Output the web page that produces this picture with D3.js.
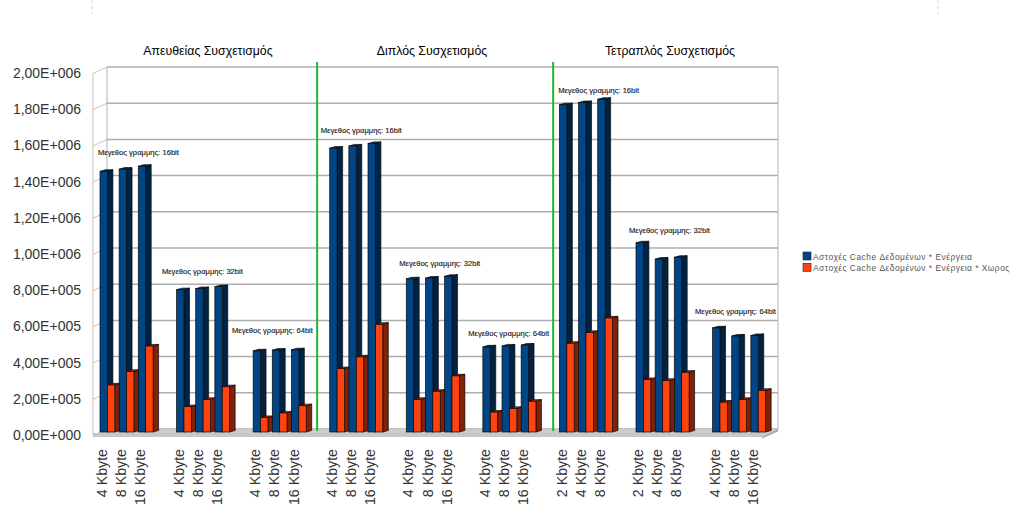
<!DOCTYPE html>
<html><head><meta charset="utf-8">
<script src="https://cdn.jsdelivr.net/npm/d3@7"></script>
<style>html,body{margin:0;padding:0;background:#fff}svg{display:block}text{font-family:"Liberation Sans",Arial,sans-serif}</style>
</head><body><svg id="c" width="1024" height="522"></svg>
<script>
const slots = ["4 Kbyte","8 Kbyte","16 Kbyte","",
 "4 Kbyte","8 Kbyte","16 Kbyte","",
 "4 Kbyte","8 Kbyte","16 Kbyte","",
 "4 Kbyte","8 Kbyte","16 Kbyte","",
 "4 Kbyte","8 Kbyte","16 Kbyte","",
 "4 Kbyte","8 Kbyte","16 Kbyte","",
 "2 Kbyte","4 Kbyte","8 Kbyte","",
 "2 Kbyte","4 Kbyte","8 Kbyte","",
 "4 Kbyte","8 Kbyte","16 Kbyte"];
const energy = [1440000,1452000,1468000,null,786000,792000,803000,null,448000,452000,454000,null,
 1568000,1580000,1594000,null,846000,850000,860000,null,470000,475000,480000,null,
 1808000,1820000,1838000,null,1045000,955000,965000,null,575000,530000,533000];
const energyArea = [260000,335000,475000,null,140000,180000,250000,null,80000,105000,145000,null,
 350000,415000,595000,null,180000,225000,310000,null,110000,130000,170000,null,
 490000,550000,630000,null,290000,285000,330000,null,165000,180000,230000];
const yTicks = [0,200000,400000,600000,800000,1000000,1200000,1400000,1600000,1800000,2000000];
const yTickLabels = ["0,00E+000","2,00E+005","4,00E+005","6,00E+005","8,00E+005","1,00E+006","1,20E+006","1,40E+006","1,60E+006","1,80E+006","2,00E+006"];
const sectionTitles = ["Απευθείας Συσχετισμός","Διπλός Συσχετισμός","Τετραπλός Συσχετισμός"];
const sectionTitleX = [208,432,670];
const dividerSlots = [11.5,23.83];
const lineLabels = ["Μεγεθος γραμμης: 16bit","Μεγεθος γραμμης: 32bit","Μεγεθος γραμμης: 64bit"];
const noteAnchors = [
 {slot:.26,text:lineLabels[0],value:1547000},{slot:3.6,text:lineLabels[1],value:895000},{slot:7.26,text:lineLabels[2],value:564000},
 {slot:11.9,text:lineLabels[0],value:1669000},{slot:16,text:lineLabels[1],value:934000},{slot:19.6,text:lineLabels[2],value:552000},
 {slot:24.3,text:lineLabels[0],value:1892000},{slot:28,text:lineLabels[1],value:1120000},{slot:31.45,text:lineLabels[2],value:673000}];
const legendLabels = ["Αστοχές Cache Δεδομένων * Ενέργεια","Αστοχές Cache Δεδομένων * Ενέργεια * Χωρος"];
const colors = {blue:"#004586",blueSide:"#002344",blueTop:"#003366",orange:"#ff420e",orangeSide:"#80210a",orangeTop:"#c0320b"};

const svg = d3.select("#c");
const dx = 14, dy = -6.5;
const x = d3.scaleBand().domain(d3.range(slots.length)).range([93,763]);
const y = d3.scaleLinear().domain([0,2000000]).range([435.5,73.5]);
const baseLift = -3.5, barDepthX = 5.5, barDepthY = -1.6;
const barW = 7.4;

const g = svg.append("g");
const wallX0 = x.range()[0], wallX1 = x.range()[1];
const poly = (pts,fill,stroke) => g.append("polygon").attr("points",pts.map(p=>p.join(",")).join(" ")).attr("fill",fill).attr("stroke",stroke||"none");
g.selectAll("line.edge").data([92,938]).join("line").attr("class","edge")
 .attr("x1",d=>d).attr("x2",d=>d).attr("y1",0).attr("y2",14).attr("stroke","#dcdcdc").attr("stroke-dasharray","4 2");
g.selectAll("line.grid").data(yTicks).join("line").attr("class","grid")
 .attr("x1",wallX0+dx).attr("x2",wallX1+dx+1).attr("y1",d=>y(d)+dy).attr("y2",d=>y(d)+dy)
 .attr("stroke","#aeaeae").attr("stroke-width",1.5);
g.selectAll("line.tick").data(yTicks).join("line").attr("class","tick")
 .attr("x1",wallX0).attr("x2",wallX0+dx).attr("y1",d=>y(d)).attr("y2",d=>y(d)+dy)
 .attr("stroke","#c4c4c4").attr("stroke-width",1);
g.append("line").attr("x1",wallX0).attr("x2",wallX0).attr("y1",y(2000000)).attr("y2",y(0)).attr("stroke","#c4c4c4");
g.append("line").attr("x1",wallX0+dx).attr("x2",wallX0+dx).attr("y1",y(2000000)+dy).attr("y2",y(0)+dy).attr("stroke","#b3b3b3");
g.append("line").attr("x1",wallX1+dx+1).attr("x2",wallX1+dx+1).attr("y1",y(2000000)+dy).attr("y2",y(0)+dy).attr("stroke","#b3b3b3");
poly([[wallX0,y(0)+1.5],[wallX0+dx,y(0)+dy],[wallX1+dx+1,y(0)+dy],[wallX1,y(0)+1.5]],"#cccccc");
g.append("rect").attr("x",wallX0).attr("y",y(0)-2.5).attr("width",wallX1-wallX0).attr("height",4).attr("fill","#c8c8c8");
poly([[wallX1-1,y(0)+1.5],[wallX1+dx+1,y(0)+dy],[wallX1+dx+1,y(0)+dy+2.5],[wallX1-1,y(0)+3]],"#a8a8a8");

g.selectAll("line.div").data(dividerSlots).join("line").attr("class","div")
 .attr("x1",d=>wallX0+x.step()*d+4).attr("x2",d=>wallX0+x.step()*d+4).attr("y1",62).attr("y2",431)
 .attr("stroke","#1fb52e").attr("stroke-width",2);

function bar(sel,vals,off,c,sc,tc){
 const data = vals.map((v,i)=>({v,i})).filter(d=>d.v!=null);
 const gs = sel.selectAll(null).data(data).join("g");
 const X = d=>x(d.i)+off, Y = d=>y(d.v)+baseLift, B = y(0)+baseLift;
 gs.append("polygon").attr("points",d=>`${X(d)+barW},${Y(d)} ${X(d)+barW+barDepthX},${Y(d)+barDepthY} ${X(d)+barW+barDepthX},${B+barDepthY} ${X(d)+barW},${B}`).attr("fill",sc).attr("stroke","#0a0a0a").attr("stroke-width",.7);
 gs.append("polygon").attr("points",d=>`${X(d)},${Y(d)} ${X(d)+barDepthX},${Y(d)+barDepthY} ${X(d)+barW+barDepthX},${Y(d)+barDepthY} ${X(d)+barW},${Y(d)}`).attr("fill",tc).attr("stroke","#0a0a0a").attr("stroke-width",.7);
 gs.append("rect").attr("x",X).attr("y",Y).attr("width",barW).attr("height",d=>B-Y(d)).attr("fill",c).attr("stroke","#0a0a0a").attr("stroke-width",.7);
}
const bars = svg.append("g");
d3.range(slots.length).forEach(i=>{
 const row = bars.append("g");
 const e = energy.map((v,j)=>j===i?v:null), a = energyArea.map((v,j)=>j===i?v:null);
 bar(row,e,7,colors.blue,colors.blueSide,colors.blueTop);
 bar(row,a,14.4,colors.orange,colors.orangeSide,colors.orangeTop);
});

svg.append("g").selectAll("text").data(yTicks).join("text")
 .attr("x",81).attr("y",d=>y(d)-0.5).attr("dy","0.36em").attr("text-anchor","end")
 .attr("font-size",14).attr("fill","#333").text((d,i)=>yTickLabels[i]);

svg.append("g").selectAll("text").data(slots.map((s,i)=>({s,i})).filter(d=>d.s)).join("text")
 .attr("transform",d=>`translate(${x(d.i)+x.bandwidth()/2+4.5},449) rotate(-90)`)
 .attr("text-anchor","end").attr("font-size",14.2).attr("fill","#333").text(d=>d.s);

svg.append("g").selectAll("text").data(sectionTitles).join("text")
 .attr("x",(d,i)=>sectionTitleX[i]).attr("y",54.5).attr("text-anchor","middle")
 .attr("font-size",12.3).attr("fill","#000").text(d=>d);

svg.append("g").selectAll("text").data(noteAnchors).join("text")
 .attr("x",d=>wallX0+x.step()*d.slot).attr("y",d=>y(d.value)).attr("font-size",7.6)
 .attr("fill","#222").attr("stroke","#222").attr("stroke-width",.15).text(d=>d.text);

const lg = svg.append("g").selectAll("g").data(legendLabels).join("g").attr("transform",(d,i)=>`translate(803,${252+i*11.3})`);
lg.append("rect").attr("width",8).attr("height",8).attr("fill",(d,i)=>i?colors.orange:colors.blue).attr("stroke","#222").attr("stroke-width",.6);
lg.append("text").attr("x",10).attr("y",7.5).attr("font-size",8.4).attr("letter-spacing",0.5).attr("fill","#555").text(d=>d);
</script></body></html>
